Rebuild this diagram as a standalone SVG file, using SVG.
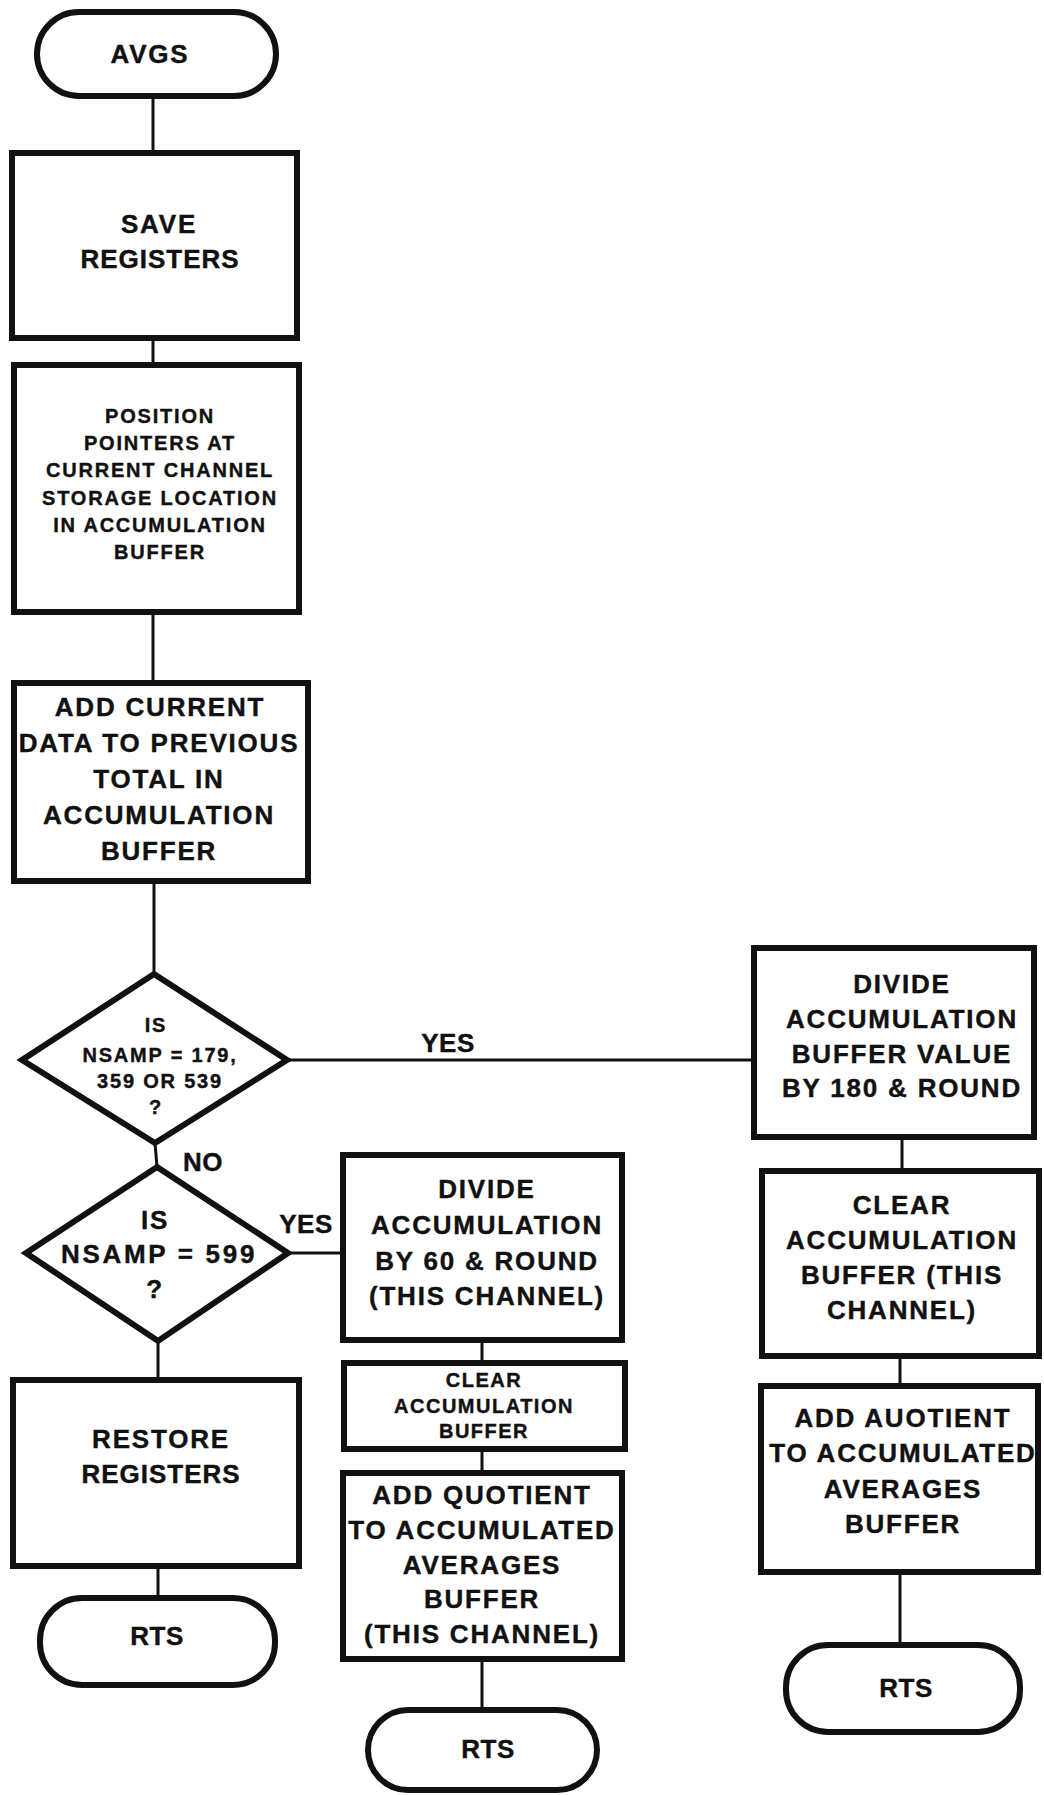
<svg xmlns="http://www.w3.org/2000/svg" width="1044" height="1795" viewBox="0 0 1044 1795">
<style>
.box{fill:#fff;stroke:#111;stroke-width:6;stroke-linejoin:miter}
.term{fill:#fff;stroke:#111;stroke-width:6}
.dia{fill:#fff;stroke:#111;stroke-width:6;stroke-linejoin:miter}
.con{fill:none;stroke:#111;stroke-width:3}
text{font-family:"Liberation Sans",Arial,Helvetica,sans-serif;font-weight:bold;fill:#111;stroke:#111;stroke-width:0.4;text-anchor:middle}
.b{font-size:26px;letter-spacing:1.8px}
.s{font-size:20px;letter-spacing:1.8px}
.l{font-size:26px;letter-spacing:0.5px}
</style>
<rect x="0" y="0" width="1044" height="1795" fill="#fff"/>
<g id="connectors">
<line class="con" x1="153" y1="96" x2="153" y2="153"/>
<line class="con" x1="153" y1="338" x2="153" y2="365"/>
<line class="con" x1="153" y1="612" x2="153" y2="683"/>
<line class="con" x1="154" y1="881" x2="154" y2="974"/>
<line class="con" x1="155" y1="1143" x2="157" y2="1167"/>
<line class="con" x1="287" y1="1060" x2="754" y2="1060"/>
<line class="con" x1="288" y1="1253" x2="343" y2="1253"/>
<line class="con" x1="158" y1="1341" x2="158" y2="1380"/>
<line class="con" x1="158" y1="1566" x2="158" y2="1598"/>
<line class="con" x1="902" y1="1137" x2="902" y2="1171"/>
<line class="con" x1="900" y1="1356" x2="900" y2="1386"/>
<line class="con" x1="900" y1="1572" x2="900" y2="1645"/>
<line class="con" x1="482" y1="1340" x2="482" y2="1363"/>
<line class="con" x1="482" y1="1449" x2="482" y2="1473"/>
<line class="con" x1="482" y1="1659" x2="482" y2="1710"/>
</g>
<g id="avgs">
<rect class="term" x="37" y="12" width="239" height="84" rx="42" ry="42"/>
<text class="b" x="150" y="63">AVGS</text>
</g>
<g id="save">
<rect class="box" x="12" y="153" width="285" height="185"/>
<text class="b" x="159" y="233">SAVE</text>
<text class="b" x="160" y="268" style="letter-spacing:1px">REGISTERS</text>
</g>
<g id="position">
<rect class="box" x="14" y="365" width="285" height="247"/>
<text class="s" x="160" y="423">POSITION</text>
<text class="s" x="160" y="450">POINTERS AT</text>
<text class="s" x="160" y="477">CURRENT CHANNEL</text>
<text class="s" x="160" y="505">STORAGE LOCATION</text>
<text class="s" x="160" y="532">IN ACCUMULATION</text>
<text class="s" x="160" y="559">BUFFER</text>
</g>
<g id="addcurrent">
<rect class="box" x="14" y="683" width="294" height="198"/>
<text class="b" x="160" y="716">ADD CURRENT</text>
<text class="b" x="159" y="752">DATA TO PREVIOUS</text>
<text class="b" x="159" y="788">TOTAL IN</text>
<text class="b" x="159" y="824">ACCUMULATION</text>
<text class="b" x="159" y="860">BUFFER</text>
</g>
<g id="decision1">
<polygon class="dia" points="154,974 287,1060 155,1143 22,1060"/>
<text class="s" x="156" y="1032">IS</text>
<text class="s" x="160" y="1062">NSAMP = 179,</text>
<text class="s" x="160" y="1088">359 OR 539</text>
<text class="s" x="156" y="1114">?</text>
</g>
<g id="decision2">
<polygon class="dia" points="157,1167 288,1253 158,1341 26,1253"/>
<text class="b" x="155" y="1229">IS</text>
<text class="b" x="159" y="1263" style="letter-spacing:2.7px">NSAMP = 599</text>
<text class="b" x="155" y="1298">?</text>
</g>
<g id="labels">
<text class="l" x="448" y="1052">YES</text>
<text class="l" x="203" y="1171">NO</text>
<text class="l" x="306" y="1233">YES</text>
</g>
<g id="restore">
<rect class="box" x="13" y="1380" width="286" height="186"/>
<text class="b" x="161" y="1448">RESTORE</text>
<text class="b" x="161" y="1483" style="letter-spacing:1px">REGISTERS</text>
</g>
<g id="rts1">
<rect class="term" x="40" y="1598" width="235" height="87" rx="42" ry="42"/>
<text class="l" x="157" y="1645">RTS</text>
</g>
<g id="divide60">
<rect class="box" x="343" y="1155" width="279" height="185"/>
<text class="b" x="487" y="1198">DIVIDE</text>
<text class="b" x="487" y="1234">ACCUMULATION</text>
<text class="b" x="487" y="1270">BY 60 &amp; ROUND</text>
<text class="b" x="487" y="1305">(THIS CHANNEL)</text>
</g>
<g id="clear60">
<rect class="box" x="344" y="1363" width="281" height="86"/>
<text class="s" x="484" y="1387" style="letter-spacing:1.5px">CLEAR</text>
<text class="s" x="484" y="1413" style="letter-spacing:1.5px">ACCUMULATION</text>
<text class="s" x="484" y="1438" style="letter-spacing:1.5px">BUFFER</text>
</g>
<g id="addquotient">
<rect class="box" x="343" y="1473" width="279" height="186"/>
<text class="b" x="482" y="1504">ADD QUOTIENT</text>
<text class="b" x="482" y="1539">TO ACCUMULATED</text>
<text class="b" x="482" y="1574">AVERAGES</text>
<text class="b" x="482" y="1608">BUFFER</text>
<text class="b" x="482" y="1643">(THIS CHANNEL)</text>
</g>
<g id="rts2">
<rect class="term" x="368" y="1710" width="229" height="80" rx="40" ry="40"/>
<text class="l" x="488" y="1758">RTS</text>
</g>
<g id="divide180">
<rect class="box" x="754" y="948" width="280" height="189"/>
<text class="b" x="902" y="993">DIVIDE</text>
<text class="b" x="902" y="1028">ACCUMULATION</text>
<text class="b" x="902" y="1063">BUFFER VALUE</text>
<text class="b" x="902" y="1097">BY 180 &amp; ROUND</text>
</g>
<g id="clear180">
<rect class="box" x="762" y="1171" width="277" height="185"/>
<text class="b" x="902" y="1214">CLEAR</text>
<text class="b" x="902" y="1249">ACCUMULATION</text>
<text class="b" x="902" y="1284">BUFFER (THIS</text>
<text class="b" x="902" y="1319">CHANNEL)</text>
</g>
<g id="addauotient">
<rect class="box" x="761" y="1386" width="277" height="186"/>
<text class="b" x="903" y="1427">ADD AUOTIENT</text>
<text class="b" x="903" y="1462">TO ACCUMULATED</text>
<text class="b" x="903" y="1498">AVERAGES</text>
<text class="b" x="903" y="1533">BUFFER</text>
</g>
<g id="rts3">
<rect class="term" x="786" y="1645" width="234" height="87" rx="42" ry="42"/>
<text class="l" x="906" y="1697">RTS</text>
</g>
</svg>
